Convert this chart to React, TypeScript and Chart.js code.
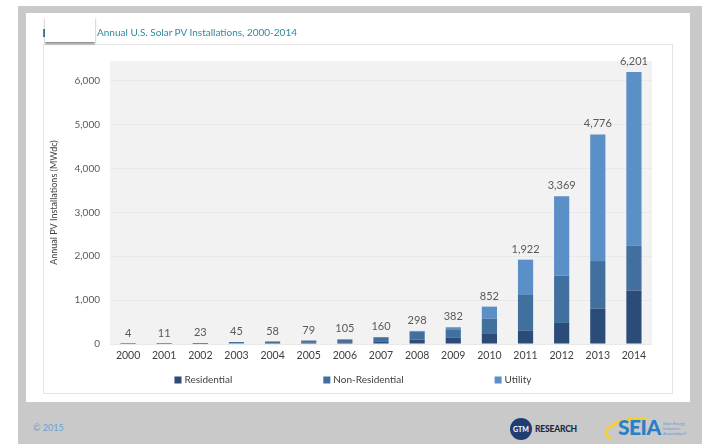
import React, { useEffect, useRef } from "react";
import { Chart, registerables } from "chart.js";

Chart.register(...registerables);

const years = ["2000", "2001", "2002", "2003", "2004", "2005", "2006", "2007", "2008", "2009", "2010", "2011", "2012", "2013", "2014"];
const residential = [1, 3, 7, 14, 23, 28, 38, 60, 100, 150, 245, 300, 480, 805, 1220];
const nonResidential = [3, 8, 16, 31, 35, 51, 67, 93, 180, 185, 335, 817, 1080, 1085, 1020];
const utility = [0, 0, 0, 0, 0, 0, 0, 7, 18, 47, 272, 805, 1809, 2886, 3961];
const seriesNames = ["Residential", "Non-Residential", "Utility"];
const seriesColors = ["#2b4c78", "#41709f", "#5b8fc8"];
const yTickValues = [0, 1000, 2000, 3000, 4000, 5000, 6000];
const yMax = 6450;

const FONT = "Lato, 'Open Sans', sans-serif";

const bgPlugin = {
  id: "plotBg",
  beforeDraw(chart: any) {
    const { ctx, chartArea } = chart;
    ctx.save();
    ctx.fillStyle = "#f2f2f2";
    ctx.fillRect(chartArea.left, chartArea.top, chartArea.right - chartArea.left, chartArea.bottom - chartArea.top);
    ctx.restore();
  },
};

const totalsPlugin = {
  id: "totals",
  afterDatasetsDraw(chart: any) {
    const { ctx, scales } = chart;
    const x = scales.x;
    const y = scales.y;
    ctx.save();
    ctx.font = `11px ${FONT}`;
    ctx.fillStyle = "#595959";
    ctx.textAlign = "center";
    ctx.textBaseline = "bottom";
    years.forEach((_, i) => {
      const total = residential[i] + nonResidential[i] + utility[i];
      ctx.fillText(total.toLocaleString("en-US"), x.getPixelForValue(i), y.getPixelForValue(total) - 5);
    });
    ctx.restore();
  },
};

const legendPlugin = {
  id: "spreadLegend",
  afterDraw(chart: any) {
    const { ctx, width, chartArea } = chart;
    ctx.save();
    ctx.font = `10px ${FONT}`;
    const box = 7;
    const gapText = 3;
    const gap = 91;
    const widths = seriesNames.map((n) => box + gapText + ctx.measureText(n).width);
    const total = widths.reduce((a, b) => a + b, 0) + gap * (seriesNames.length - 1);
    let xPos = width / 2 - total / 2 - 5;
    const yc = chartArea.bottom + 36;
    seriesNames.forEach((n, i) => {
      ctx.fillStyle = seriesColors[i];
      ctx.fillRect(xPos, yc - box / 2, box, box);
      ctx.fillStyle = "#404040";
      ctx.textAlign = "left";
      ctx.textBaseline = "middle";
      ctx.fillText(n, xPos + box + gapText, yc);
      xPos += widths[i] + gap;
    });
    ctx.restore();
  },
};

export default function App() {
  const ref = useRef<HTMLCanvasElement>(null);

  useEffect(() => {
    document.body.style.margin = "0";
    const canvas = ref.current!;
    const data = [residential, nonResidential, utility];
    const chart = new Chart(canvas, {
      type: "bar",
      data: {
        labels: years,
        datasets: seriesNames.map((name, i) => ({
          label: name,
          data: data[i],
          backgroundColor: seriesColors[i],
          borderWidth: 0,
          barPercentage: 0.42,
          categoryPercentage: 1.0,
        })),
      },
      options: {
        responsive: false,
        animation: false,
        devicePixelRatio: 1,
        layout: { padding: { top: 12, right: 21, left: 0, bottom: 0 } },
        plugins: {
          legend: { display: false },
          tooltip: { enabled: false },
          title: { display: false },
        },
        scales: {
          x: {
            stacked: true,
            grid: { display: false, drawTicks: false },
            border: { display: false },
            ticks: {
              color: "#404040",
              font: { family: FONT, size: 10.5 },
              padding: 5,
              maxRotation: 0,
              autoSkip: false,
            },
            afterFit(scale: any) {
              scale.height = 50;
            },
          },
          y: {
            stacked: true,
            min: 0,
            max: yMax,
            grid: { color: "#e9e9e9", drawTicks: false, lineWidth: 1 },
            border: { display: false },
            afterBuildTicks(scale: any) {
              scale.ticks = yTickValues.map((v) => ({ value: v }));
            },
            ticks: {
              color: "#595959",
              font: { family: FONT, size: 10 },
              padding: 10,
              callback: (v: any) => Number(v).toLocaleString("en-US"),
            },
            title: {
              display: true,
              text: "Annual PV Installations (MWdc)",
              color: "#404040",
              font: { family: FONT, size: 9 },
              padding: { top: 6, bottom: 0 },
            },
            afterFit(scale: any) {
              scale.width = 67;
            },
          },
        },
      },
      plugins: [bgPlugin, totalsPlugin, legendPlugin],
    });
    return () => chart.destroy();
  }, []);

  const abs = (s: React.CSSProperties): React.CSSProperties => ({ position: "absolute", ...s });

  return (
    <div style={{ position: "relative", width: 702, height: 444, background: "#ffffff", overflow: "hidden", fontFamily: FONT }}>
      <div style={abs({ left: 18, top: 6, width: 684, height: 438, background: "#c9c9c9" })} />
      <div style={abs({ left: 26, top: 13, width: 664, height: 389, background: "#ffffff" })} />
      <div style={abs({ left: 43, top: 44, width: 630, height: 350, border: "1px solid #e4e4e4", boxSizing: "border-box" })} />
      <canvas ref={ref} width={630} height={349} style={abs({ left: 43, top: 45, width: 630, height: 349 })} />
      <div style={abs({ left: 43, top: 29, width: 2, height: 8, background: "#3a8ea3" })} />
      <div style={abs({ left: 97, top: 26, fontSize: 10, color: "#2f8aa0", whiteSpace: "nowrap" })}>
        Annual U.S. Solar PV Installations, 2000-2014
      </div>
      <div style={abs({ left: 45, top: 17, width: 50, height: 25, background: "#ffffff", boxShadow: "0 2px 2px rgba(0,0,0,0.45)" })} />
      <div style={abs({ left: 33, top: 422, fontSize: 9, color: "#6a9fd6" })}>© 2015</div>
      <div style={abs({ left: 510, top: 418, width: 22, height: 22, borderRadius: "50%", background: "#1f3d73", color: "#fff", fontSize: 7, fontWeight: 700, display: "flex", alignItems: "center", justifyContent: "center" })}>
        GTM
      </div>
      <div style={abs({ left: 535, top: 424, fontSize: 8.5, fontWeight: 900, color: "#1c2a4a", letterSpacing: -0.2 })}>RESEARCH</div>
      <div style={abs({ left: 604, top: 418, width: 44, height: 16, borderRadius: "50%", border: "3px solid #f3d02a", borderBottomColor: "transparent", borderRightColor: "transparent", transform: "rotate(-12deg)" })} />
      <div style={abs({ left: 618, top: 414, fontSize: 21, fontWeight: 900, color: "#2a7fc9", letterSpacing: -0.5 })}>SEIA</div>
      <div style={abs({ left: 663, top: 421, fontSize: 4, lineHeight: "5px", color: "#5a9ad6", width: 30 })}>
        Solar Energy Industries Association®
      </div>
    </div>
  );
}
